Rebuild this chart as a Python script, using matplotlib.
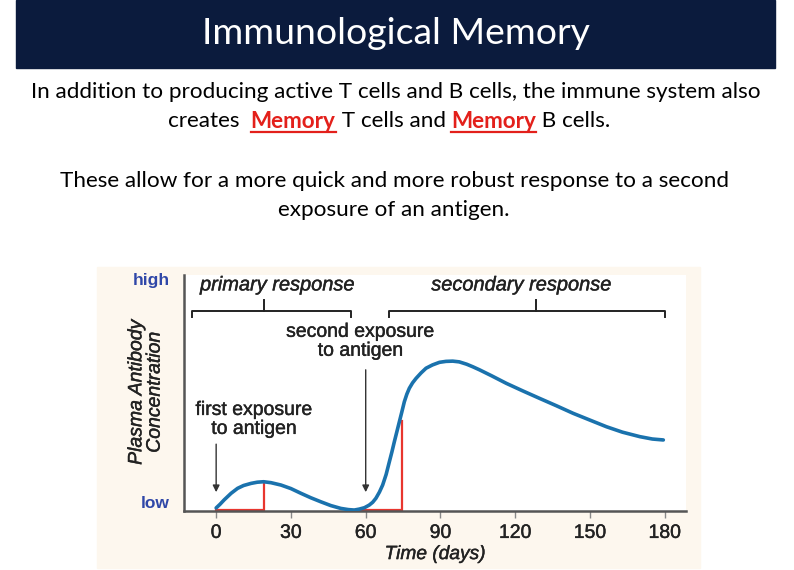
import matplotlib
matplotlib.use('Agg')
import matplotlib.pyplot as plt
import matplotlib.patheffects as pe
from matplotlib.patches import Rectangle

W, H = 794, 570

# antibody level (0 = low, 1 = top of plot)
days = [0, 1.5, 3.2, 6, 8.6, 11, 14, 16.5, 19, 22, 26, 30, 34, 38, 42, 46, 50,
        53, 55.4, 57.4, 59.5, 61.4, 62.8, 64.1, 65.5, 66.8, 68.2, 69.5, 70.5,
        71.5, 72.5, 73.5, 74.5, 75.5, 76.5, 77.5, 78.8, 80.2, 82.2, 84.2, 86.8,
        89.6, 92.2, 94.9, 97.5, 100.5, 103, 105.7, 110.5, 116.4, 123, 129.8,
        136.5, 143.2, 150, 156.6, 163, 170, 175, 179.4]
level = [0.013, 0.028, 0.047, 0.075, 0.096, 0.108, 0.117, 0.122, 0.124, 0.120,
         0.110, 0.095, 0.075, 0.056, 0.039, 0.023, 0.011, 0.006, 0.004, 0.008,
         0.014, 0.025, 0.037, 0.054, 0.080, 0.110, 0.155, 0.209, 0.250, 0.294,
         0.336, 0.378, 0.420, 0.463, 0.495, 0.520, 0.543, 0.562, 0.585, 0.605,
         0.619, 0.630, 0.634, 0.635, 0.632, 0.622, 0.611, 0.598, 0.573, 0.541,
         0.509, 0.477, 0.446, 0.414, 0.385, 0.357, 0.334, 0.315, 0.305, 0.301]

tick_days = [0, 30, 60, 90, 120, 150, 180]
first_peak = (19, 0.124)
second_mark = (74.4, 0.381)
primary_span = (-9.8, 54.1, 19.3)
secondary_span = (69.5, 180, 128.5)
exposures = [0, 60]

title = "Immunological Memory"
line1 = "In addition to producing active T cells and B cells, the immune system also"
line3 = "These allow for a more quick and more robust response to a second"
line4 = "exposure of an antigen."


def fx(px):
    return px / W


def fy(py):
    return 1 - py / H


fig = plt.figure(figsize=(W / 100, H / 100), dpi=100)
fig.patch.set_facecolor('white')

# title banner
fig.patches.append(Rectangle((fx(16), fy(68)), fx(775) - fx(16), fy(0) - fy(68),
                             transform=fig.transFigure, color='#0b1b3d', zorder=-1))
slide_font = 'Lato'
fs = 16.2
fig.text(fx(396), fy(33), title, color='white', fontsize=26.9, family=slide_font,
         ha='center', va='center')
fig.text(fx(396), fy(92), line1, fontsize=fs, family=slide_font, ha='center', va='center')
fig.text(fx(395), fy(181), line3, fontsize=fs, family=slide_font, ha='center', va='center')
fig.text(fx(394), fy(210), line4, fontsize=fs, family=slide_font, ha='center', va='center')

# second line with red underlined words
pieces = [("creates  ", False), ("Memory", True), (" T cells and ", False),
          ("Memory", True), (" B cells.", False)]
renderer = fig.canvas.get_renderer()
texts = []
for s, red in pieces:
    t = fig.text(0, fy(121), s, fontsize=fs, family=slide_font, va='center', ha='left',
                 color='#e3201b' if red else 'black',
                 fontweight='bold' if red else 'normal')
    texts.append((t, red))
widths = [t.get_window_extent(renderer).width for t, _ in texts]
x = 389 - sum(widths) / 2
for (t, red), w in zip(texts, widths):
    t.set_x(fx(x))
    if red:
        fig.add_artist(plt.Line2D([fx(x), fx(x + w)], [fy(132), fy(132)],
                                  color='#e3201b', lw=1.6, transform=fig.transFigure))
    x += w

# beige panel behind the chart
fig.patches.append(Rectangle((fx(97), fy(568)), fx(700) - fx(97), fy(267) - fy(568),
                             transform=fig.transFigure, color='#fdf7ee', zorder=-1))

ax = fig.add_axes([fx(184), fy(511), fx(686) - fx(184), fy(275) - fy(511)])
ax.set_facecolor('white')
ax.set_xlim(-12.9, 188.5)
ax.set_ylim(0, 1)
for side in ['top', 'right']:
    ax.spines[side].set_visible(False)
for side in ['left', 'bottom']:
    ax.spines[side].set_color('#555555')
    ax.spines[side].set_linewidth(1.8)

chart_font = 'Liberation Sans'
ink = '#222222'
thick = [pe.withStroke(linewidth=0.3, foreground=ink)]
ax.set_xticks(tick_days)
ax.set_xticklabels([str(d) for d in tick_days], fontsize=14, family=chart_font, color=ink)
for lab in ax.get_xticklabels():
    lab.set_path_effects(thick)
ax.tick_params(axis='x', direction='out', length=5, width=1, color='#888888', pad=5)
ax.set_yticks([0.04, 0.985])
ax.set_yticklabels(['low', 'high'], fontsize=12.5, family=chart_font,
                   color='#2f47a8', fontweight='bold')
ax.tick_params(axis='y', length=0, pad=10)
ax.set_xlabel('Time (days)', fontsize=13.8, family=chart_font, style='italic',
              color=ink, labelpad=3, path_effects=thick)
fig.text(fx(146), fy(392), 'Plasma Antibody\nConcentration', fontsize=14,
         family=chart_font, style='italic', color=ink, rotation=90, ha='center',
         va='center', linespacing=1.1, path_effects=thick)

# red marks under the curve
ax.plot([0, first_peak[0], first_peak[0]], [0.005, 0.005, first_peak[1]],
        color='#e8362e', lw=1.6, solid_joinstyle='miter', zorder=2)
ax.plot([55, second_mark[0], second_mark[0]], [0.005, 0.005, second_mark[1]],
        color='#e8362e', lw=1.6, solid_joinstyle='miter', zorder=2)

ax.plot(days, level, color='#1a72ad', lw=2.6, solid_joinstyle='round',
        solid_capstyle='round', zorder=3)

# braces
for a, b, c in [primary_span, secondary_span]:
    ax.plot([a, a, b, b], [0.823, 0.849, 0.849, 0.823], color='#222222', lw=1.4,
            clip_on=False)
    ax.plot([c, c], [0.849, 0.893], color='#222222', lw=1.4, clip_on=False)

ax.text(24.5, 0.958, 'primary response', fontsize=14.4, family=chart_font,
        style='italic', ha='center', va='center', color=ink, path_effects=thick)
ax.text(122.4, 0.958, 'secondary response', fontsize=14.4, family=chart_font,
        style='italic', ha='center', va='center', color=ink, path_effects=thick)

# exposure arrows
ax.annotate('', xy=(exposures[0], 0.068), xytext=(exposures[0], 0.295),
            arrowprops=dict(arrowstyle='-|>', color='#333333', lw=1, mutation_scale=10))
ax.annotate('', xy=(exposures[1], 0.068), xytext=(exposures[1], 0.61),
            arrowprops=dict(arrowstyle='-|>', color='#333333', lw=1, mutation_scale=10))
ax.text(15.3, 0.386, 'first exposure\nto antigen', fontsize=14, family=chart_font,
        ha='center', va='center', color=ink, linespacing=1.15, path_effects=thick)
ax.text(58, 0.717, 'second exposure\nto antigen', fontsize=14, family=chart_font,
        ha='center', va='center', color=ink, linespacing=1.15, path_effects=thick)

fig.savefig('out.png', dpi=100)
